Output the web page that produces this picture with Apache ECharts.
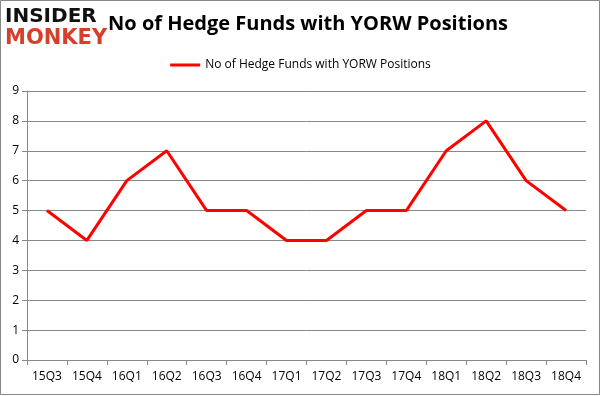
<!DOCTYPE html>
<html><head><meta charset="utf-8">
<script src="https://cdn.jsdelivr.net/npm/echarts@6/dist/echarts.min.js"></script>
<style>html,body{margin:0;padding:0;background:#fff}#c{width:601px;height:396px}</style>
</head><body><div id="c"></div>
<script>
const categories = ['15Q3','15Q4','16Q1','16Q2','16Q3','16Q4','17Q1','17Q2','17Q3','17Q4','18Q1','18Q2','18Q3','18Q4'];
const hedgeFunds = [5,4,6,7,5,5,4,4,5,5,7,8,6,5];
const seriesName = 'No of Hedge Funds with YORW Positions';
const titleText = 'No of Hedge Funds with YORW Positions';

const chart = echarts.init(document.getElementById('c'), null, {renderer:'canvas'});
chart.setOption({
  animation:false,
  backgroundColor:'#fff',
  title:{text:titleText,left:303,top:9,textAlign:'center',
    textStyle:{fontFamily:'Open Sans',fontWeight:'bold',fontSize:20,color:'#000'}},
  legend:{top:54,left:'center',itemWidth:30,itemHeight:3,itemGap:5,
    icon:'rect',
    textStyle:{fontFamily:'Open Sans',fontSize:12,color:'#000'},
    data:[{name:seriesName,itemStyle:{color:'#ff0000'}}]},
  grid:{left:27,right:15,top:91,bottom:36},
  xAxis:{type:'category',data:categories,boundaryGap:true,
    axisLine:{lineStyle:{color:'#888',width:1}},
    axisTick:{show:true,length:5,lineStyle:{color:'#888'}},
    axisLabel:{color:'#000',fontFamily:'Open Sans',fontSize:12,margin:11}},
  yAxis:{type:'value',min:0,max:9,interval:1,
    axisLine:{show:true,lineStyle:{color:'#888'}},
    axisTick:{show:true,length:5,lineStyle:{color:'#888'}},
    splitLine:{lineStyle:{color:'#888',width:1}},
    axisLabel:{color:'#000',fontFamily:'Open Sans',fontSize:12,margin:8}},
  series:[{name:seriesName,type:'line',data:hedgeFunds,symbol:'none',
    lineStyle:{color:'#ff0000',width:3},itemStyle:{color:'#ff0000'}}],
  graphic:[
    {type:'rect',shape:{x:0.5,y:0.5,width:599,height:394},style:{fill:null,stroke:'#888',lineWidth:1},z:-1},
    {type:'text',left:5,top:7,style:{text:'INSIDER',fontFamily:'DejaVu Sans',fontWeight:'bold',fontSize:20,fill:'#111'},z:10},
    {type:'text',left:5,top:28,style:{text:'MONKEY',fontFamily:'DejaVu Sans',fontWeight:'bold',fontSize:21,fill:'#d6402b'},z:10}
  ]
});
</script></body></html>
